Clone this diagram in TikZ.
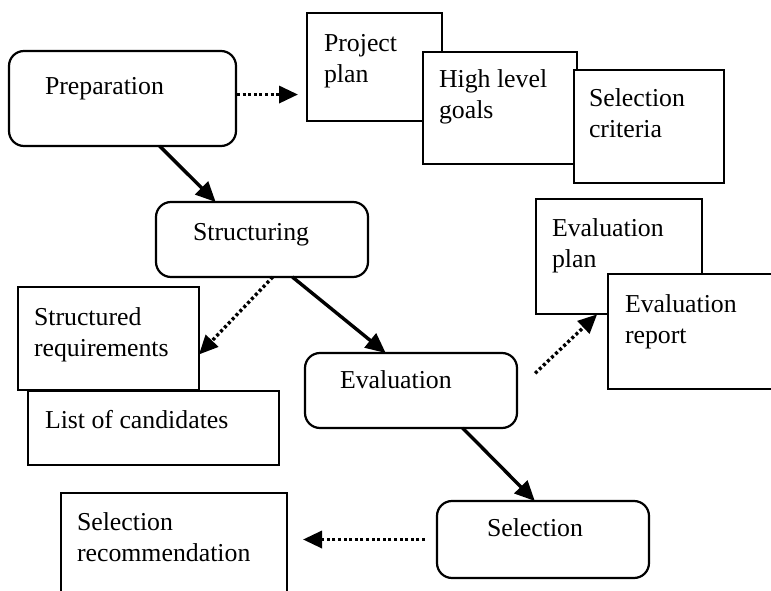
\documentclass[tikz,border=0pt]{standalone}
\usepackage{fontspec}
\setmainfont{Liberation Serif}
\usetikzlibrary{arrows.meta,calc}
% several lines of text, the node baseline being that of the first line
\newcommand\stacklines[1]{\begin{tabular}[t]{@{}l@{}}#1\end{tabular}}
\begin{document}
\begin{tikzpicture}[x=1pt,y=-1pt,
  every node/.style={inner sep=0pt, outer sep=0pt},
  doc/.style={draw, line width=2.2pt, fill=white, anchor=north west},
  stage/.style={doc, rounded corners=15pt},
  txt/.style={anchor=base west, font=\fontsize{25.8}{31}\selectfont},
  flow/.style={line width=3.4pt, -{Triangle[length=20pt,width=18pt]}},
  yields/.style={line width=3.4pt, dash pattern=on 3pt off 2.6pt,
                 -{Triangle[length=19pt,width=17pt]}},
]
\fill[white] (0,0) rectangle (771,591);
\useasboundingbox (0,0) rectangle (771,591);
\clip (0,0) rectangle (771,591);

% process stages
\node[stage, minimum width=227pt, minimum height=95pt] (prep) at (9,51) {};
\node[txt] (prep-t) at ($(prep.north west)+(36,44)$) {Preparation};
\node[stage, minimum width=212pt, minimum height=75pt] (struct) at (156,202) {};
\node[txt] (struct-t) at ($(struct.north west)+(37,38)$) {Structuring};
\node[stage, minimum width=212pt, minimum height=75pt] (eval) at (305,353) {};
\node[txt] (eval-t) at ($(eval.north west)+(35,35)$) {Evaluation};
\node[stage, minimum width=212pt, minimum height=77pt] (sel) at (437,501) {};
\node[txt] (sel-t) at ($(sel.north west)+(50,35)$) {Selection};

% documents produced by the preparation
\node[doc, minimum width=135pt, minimum height=108pt] (pp) at (307,13) {};
\node[txt] (pp-t) at ($(pp.north west)+(17,39)$) {\stacklines{Project\\plan}};
\node[doc, minimum width=154pt, minimum height=112pt] (hlg) at (423,52) {};
\node[txt] (hlg-t) at ($(hlg.north west)+(16,36)$) {\stacklines{High level\\goals}};
\node[doc, minimum width=150pt, minimum height=113pt] (sc) at (574,70) {};
\node[txt] (sc-t) at ($(sc.north west)+(15,37)$) {\stacklines{Selection\\criteria}};

% documents produced by the evaluation
\node[doc, minimum width=166pt, minimum height=115pt] (ep) at (536,199) {};
\node[txt] (ep-t) at ($(ep.north west)+(16,37)$) {\stacklines{Evaluation\\plan}};
\node[doc, minimum width=200pt, minimum height=115pt] (er) at (608,274) {};
\node[txt] (er-t) at ($(er.north west)+(17,38)$) {\stacklines{Evaluation\\report}};

% documents produced by the structuring
\node[doc, minimum width=181pt, minimum height=103pt] (sreq) at (18,287) {};
\node[txt] (sreq-t) at ($(sreq.north west)+(16,38)$) {\stacklines{Structured\\requirements}};
\node[doc, minimum width=251pt, minimum height=74pt] (loc) at (28,391) {};
\node[txt] (loc-t) at ($(loc.north west)+(17,37)$) {List of candidates};

% document produced by the selection
\node[doc, minimum width=226pt, minimum height=130pt] (rec) at (61,493) {};
\node[txt] (rec-t) at ($(rec.north west)+(16,37)$) {\stacklines{Selection\\recommendation}};

% process flow
\draw[flow] (prep.308) -- (struct.141);
\draw[flow] (struct.309) -- (eval.124);
\draw[flow] (eval.324) -- (sel.102);

% outputs
\draw[yields, shorten <=1pt, shorten >=9pt] (prep.2) -- (prep.2 -| pp.west);
\draw[yields] (struct.286) -- (sreq.350);
\draw[yields, shorten <=25pt, shorten >=15pt] (eval.east) -- ($(er.north west)+(0,30)$);
\draw[yields, shorten <=12pt, shorten >=16pt] (sel.west) -- (sel.west -| rec.east);
\end{tikzpicture}
\end{document}
